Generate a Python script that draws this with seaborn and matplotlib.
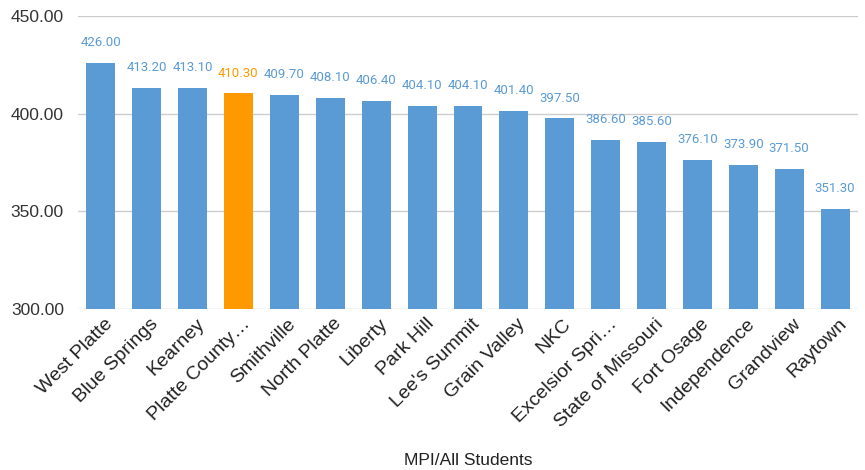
import matplotlib
matplotlib.use("Agg")
import matplotlib.pyplot as plt
import matplotlib.transforms as mtransforms
import seaborn as sns
import pandas as pd

categories = ["West Platte", "Blue Springs", "Kearney", "Platte County…", "Smithville",
              "North Platte", "Liberty", "Park Hill", "Lee's Summit", "Grain Valley", "NKC",
              "Excelsior Spri…", "State of Missouri", "Fort Osage", "Independence",
              "Grandview", "Raytown"]
values = [426.00, 413.20, 413.10, 410.30, 409.70, 408.10, 406.40, 404.10, 404.10,
          401.40, 397.50, 386.60, 385.60, 376.10, 373.90, 371.50, 351.30]
highlight = "Platte County…"
y_ticks = [300, 350, 400, 450]
x_title = "MPI/All Students"

BLUE = "#5b9bd5"
ORANGE = "#ff9900"

sns.set_theme(style="white")
plt.rcParams["font.family"] = ["Liberation Sans", "DejaVu Sans"]

df = pd.DataFrame({"cat": categories, "val": values})
palette = {c: (ORANGE if c == highlight else BLUE) for c in categories}

fig = plt.figure(figsize=(8.65, 4.7), dpi=100)
ax = fig.add_axes([0.09, 0.343, 0.902, 0.623])
sns.barplot(data=df, x="cat", y="val", hue="cat", palette=palette, legend=False,
            width=0.63, ax=ax, saturation=1, edgecolor="none")

ax.set_ylim(300, 450)
ax.set_xlim(-0.5, len(categories) - 0.5)
ax.set_yticks(y_ticks)
ax.set_yticklabels([f"{t:.2f}" for t in y_ticks], fontsize=12.5, color="#333333")
ax.yaxis.grid(True, color="#cccccc", linewidth=1)
ax.set_axisbelow(True)
for s in ax.spines.values():
    s.set_visible(False)
ax.tick_params(axis="y", length=0, pad=10)
ax.tick_params(axis="x", length=0, pad=9)

shift = mtransforms.ScaledTranslation(9 / 100, 0, fig.dpi_scale_trans)
for lbl in ax.get_xticklabels():
    lbl.set_rotation(45)
    lbl.set_ha("right")
    lbl.set_va("center")
    lbl.set_rotation_mode("anchor")
    lbl.set_fontsize(14)
    lbl.set_color("#222222")
    lbl.set_transform(lbl.get_transform() + shift)

for i, (c, v) in enumerate(zip(categories, values)):
    col = ORANGE if c == highlight else BLUE
    ax.annotate(f"{v:.2f}", (i, v), xytext=(0, 10), textcoords="offset points",
                ha="center", va="bottom", fontsize=9.5, color=col,
                family=["Roboto", "DejaVu Sans"])

ax.set_xlabel(x_title, fontsize=12.5, color="#222222", labelpad=16)
ax.set_ylabel("")

fig.savefig("out.png", dpi=100)
